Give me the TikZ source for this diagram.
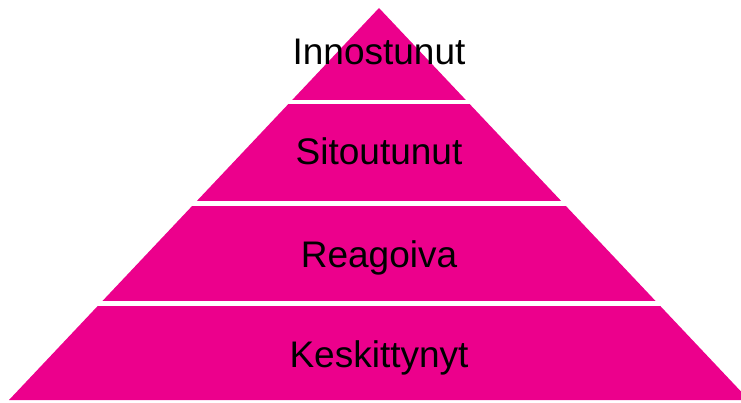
\documentclass[tikz,border=0pt]{standalone}
\usepackage{fontspec}
\setmainfont{Liberation Sans}
\usetikzlibrary{positioning,calc}
\definecolor{pyrpink}{RGB}{236,0,140}

\begin{document}
\begin{tikzpicture}[x=1pt, y=-1pt,
  level/.style={font=\fontsize{37}{40}\selectfont, text=black, anchor=base, inner sep=0pt},
  gap/.style={white, line width=4.5pt}]
\useasboundingbox (0,0) rectangle (741,403);
\clip (0,0) rectangle (741,403);
\coordinate (apex) at (379,8);
\coordinate (left) at (9,400);
\coordinate (right) at (749,400);
\fill[pyrpink] (apex) -- (left) -- (right) -- cycle;
\coordinate (g1l) at (0,102);
\coordinate (g1r) at (741,102);
\coordinate (g2l) at (0,203.5);
\coordinate (g2r) at (741,203.5);
\coordinate (g3l) at (0,303.5);
\coordinate (g3r) at (741,303.5);
\draw[gap] (g1l) -- (g1r);
\draw[gap] (g2l) -- (g2r);
\draw[gap] (g3l) -- (g3r);
\node[level] (innostunut) at (379,65) {Innostunut};
\node[level] (sitoutunut) at (379,165) {Sitoutunut};
\node[level] (reagoiva) at (379,267) {Reagoiva};
\node[level] (keskittynyt) at (379,367) {Keskittynyt};
\end{tikzpicture}
\end{document}
